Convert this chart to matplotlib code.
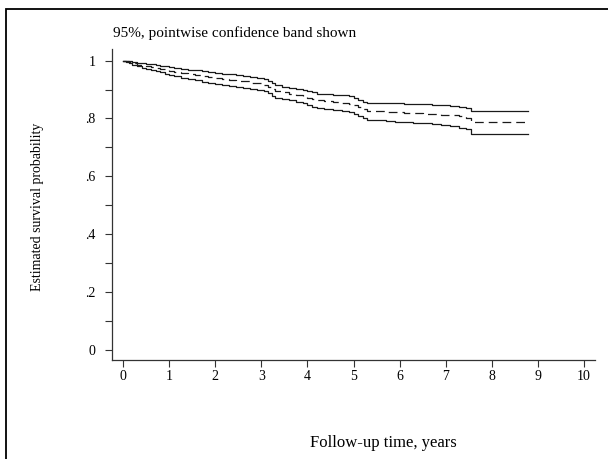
import matplotlib
matplotlib.use('Agg')
import matplotlib.pyplot as plt
from matplotlib.patches import Rectangle

# Kaplan-Meier estimate with 95% pointwise band
years = [0, .05, .12, .2, .3, .4, .5, .6, .7, .8,
         .9, 1.0, 1.1, 1.25, 1.4, 1.55, 1.7, 1.85, 2.0, 2.15,
         2.3, 2.45, 2.6, 2.75, 2.9, 3.05, 3.15, 3.22, 3.3, 3.45,
         3.6, 3.75, 3.9, 4.0, 4.1, 4.2, 4.35, 4.55, 4.75, 4.9,
         5.0, 5.1, 5.2, 5.3, 5.5, 5.7, 5.9, 6.1, 6.3, 6.5,
         6.7, 6.9, 7.1, 7.3, 7.45, 7.55, 8.78]
surv = [1.0, .997, .994, .990, .986, .983, .980, .977, .974, .971,
        .968, .965, .962, .958, .954, .951, .947, .943, .940, .937,
        .934, .931, .928, .924, .921, .917, .910, .902, .895, .890,
        .886, .882, .877, .872, .867, .863, .860, .858, .855, .851,
        .845, .838, .831, .827, .825, .823, .822, .820, .819, .817,
        .815, .813, .811, .807, .803, .789, .789]
upper = [1.0, .999, .997, .995, .993, .991, .989, .987, .985, .982,
         .980, .977, .975, .972, .969, .966, .963, .960, .957, .954,
         .952, .949, .946, .943, .940, .936, .929, .921, .914, .910,
         .906, .903, .899, .895, .890, .886, .884, .882, .880, .876,
         .870, .864, .858, .855, .853, .852, .852, .851, .850, .849,
         .847, .845, .843, .840, .836, .826, .826]
lower = [1.0, .994, .990, .985, .980, .976, .971, .967, .963, .959,
         .955, .950, .946, .941, .936, .932, .927, .923, .919, .916,
         .913, .909, .906, .902, .898, .894, .887, .879, .872, .866,
         .862, .857, .852, .846, .841, .836, .833, .830, .826, .821,
         .815, .808, .800, .796, .793, .791, .789, .787, .785, .783,
         .780, .777, .774, .768, .762, .746, .746]

xticks = list(range(0, 11))
yticks = [0, 0.2, 0.4, 0.6, 0.8, 1.0]
ytick_labels = ['0', '.2', '.4', '.6', '.8', '1']
yminor = [0.1, 0.3, 0.5, 0.7, 0.9]


def main():
    plt.rcParams['font.family'] = ['Liberation Serif', 'DejaVu Serif']
    fig = plt.figure(figsize=(6.08, 4.59), dpi=100)
    ax = fig.add_axes([112 / 608, 99 / 459, 483 / 608, 311 / 459])

    col = '#1a1a1a'
    ax.plot(years, upper, drawstyle='steps-post', color=col, lw=0.9)
    ax.plot(years, lower, drawstyle='steps-post', color=col, lw=0.9)
    ax.plot(years, surv, drawstyle='steps-post', color=col, lw=0.9, dashes=(7, 4))

    ax.set_xlim(-0.245, 10.245)
    ax.set_ylim(-0.035, 1.04)
    ax.spines['top'].set_visible(False)
    ax.spines['right'].set_visible(False)
    for s in ('left', 'bottom'):
        ax.spines[s].set_linewidth(0.9)
        ax.spines[s].set_color('#333333')

    ax.set_xticks(xticks)
    ax.set_xticklabels([str(v) for v in xticks])
    ax.set_yticks(yticks)
    ax.set_yticklabels(ytick_labels)
    ax.set_yticks(yminor, minor=True)
    ax.tick_params(axis='both', which='both', direction='out', length=5, width=0.8,
                   color='#333333', labelsize=10)
    ax.tick_params(axis='y', pad=7)
    ax.tick_params(axis='x', pad=2)

    fig.text(113 / 608, 1 - 33 / 459, '95%, pointwise confidence band shown',
             ha='left', va='center', fontsize=11)
    fig.text(38 / 608, 1 - 207 / 459, 'Estimated survival probability',
             rotation=90, ha='center', va='center', fontsize=10)
    fig.text(383 / 608, 1 - 443 / 459, 'Follow-up time, years',
             ha='center', va='center', fontsize=12)

    # border around the whole picture
    fig.patches.append(Rectangle((6 / 608, -0.05), 1.1, 1 - 9.5 / 459 + 0.05,
                                 transform=fig.transFigure, fill=False,
                                 edgecolor='black', lw=1.3))

    fig.savefig('out.png', dpi=100)
    return


if __name__ == '__main__':
    main()
